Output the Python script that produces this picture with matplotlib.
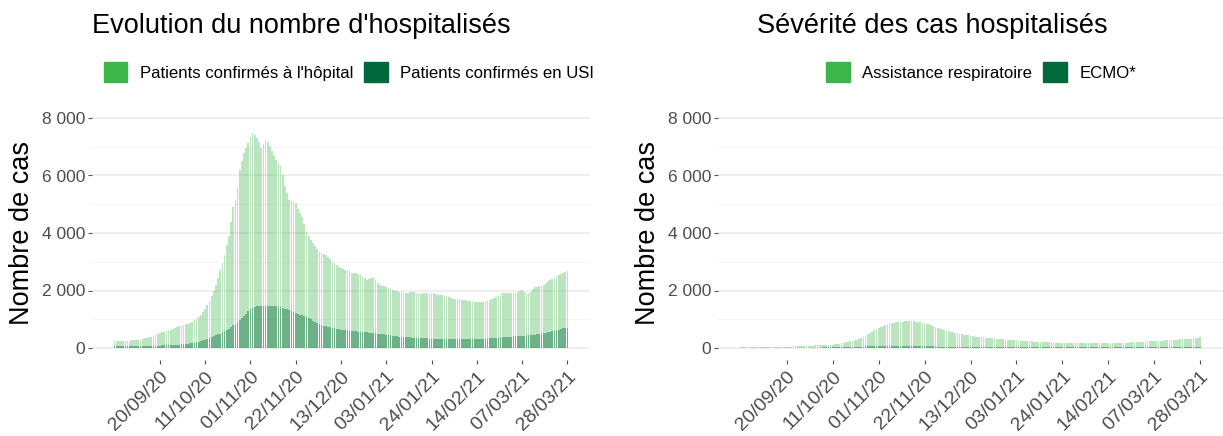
import numpy as np
import pandas as pd
import matplotlib
matplotlib.use('Agg')
import matplotlib.pyplot as plt
from matplotlib.patches import Patch
from matplotlib.ticker import FuncFormatter, MultipleLocator

plt.rcParams['font.family'] = ['Liberation Sans', 'DejaVu Sans']

# jours du 30/08/20 au 28/03/21
dates = pd.date_range('2020-08-30', '2021-03-28', freq='D')
tick_dates = pd.date_range('2020-09-20', '2021-03-28', freq='21D')

# patients confirmés à l'hôpital
hopital = [
    240, 235, 230, 228, 232, 238, 240,
    250, 262, 270, 280, 295, 310, 330,
    345, 360, 380, 400, 430, 465, 500,
    520, 545, 570, 595, 615, 640, 665,
    700, 735, 760, 780, 800, 825, 850,
    880, 920, 960, 1020, 1080, 1160, 1250,
    1360, 1480, 1620, 1800, 2000, 2200, 2450,
    2700, 2950, 3250, 3600, 3900, 4400, 4900,
    5150, 5600, 6200, 6500, 6780, 6950, 7130,
    7350, 7480, 7420, 7300, 7150, 6960, 7100,
    7245, 7150, 7013, 6850, 6700, 6550, 6450,
    6315, 6000, 5620, 5400, 5150, 5100, 5080,
    5036, 4850, 4700, 4571, 4300, 4047, 3900,
    3750, 3640, 3550, 3450, 3349, 3300, 3280,
    3233, 3150, 3080, 3000, 2950, 2900, 2826,
    2800, 2760, 2720, 2710, 2680, 2620, 2593,
    2600, 2560, 2535, 2480, 2420, 2361, 2400,
    2430, 2419, 2380, 2250, 2186, 2160, 2150,
    2128, 2090, 2050, 2012, 2000, 1980, 1960,
    1954, 1940, 1910, 1920, 1960, 1950, 1954,
    1930, 1910, 1880, 1896, 1920, 1910, 1880,
    1896, 1900, 1870, 1860, 1837, 1830, 1800,
    1790, 1760, 1740, 1721, 1710, 1700, 1690,
    1686, 1680, 1660, 1650, 1628, 1620, 1610,
    1605, 1600, 1610, 1605, 1630, 1650, 1663,
    1700, 1740, 1779, 1820, 1860, 1896, 1900,
    1919, 1910, 1930, 1896, 1900, 1960, 2000,
    2012, 1960, 1930, 1896, 1950, 2050, 2105,
    2120, 2150, 2160, 2186, 2250, 2320, 2361,
    2400, 2440, 2480, 2535, 2570, 2610, 2650,
    2687,
]

# patients confirmés en USI
usi = [
    58, 58, 60, 60, 62, 62, 63,
    64, 65, 65, 66, 67, 68, 69,
    70, 72, 74, 76, 78, 80, 83,
    86, 88, 90, 93, 96, 100, 104,
    108, 112, 116, 122, 130, 140, 150,
    162, 175, 190, 205, 222, 245, 270,
    295, 320, 350, 380, 410, 440, 470,
    500, 540, 580, 620, 670, 733, 790,
    850, 905, 965, 1040, 1120, 1198, 1270,
    1340, 1407, 1430, 1445, 1455, 1465, 1468,
    1465, 1462, 1460, 1458, 1454, 1445, 1430,
    1410, 1390, 1372, 1345, 1310, 1280, 1250,
    1221, 1195, 1165, 1135, 1110, 1082, 1040,
    1000, 950, 910, 884, 850, 815, 780,
    750, 733, 715, 700, 685, 670, 651,
    640, 630, 620, 610, 600, 590, 581,
    575, 570, 565, 560, 550, 540, 535,
    530, 525, 515, 500, 490, 480, 470,
    465, 455, 445, 430, 420, 410, 400,
    390, 384, 378, 372, 368, 365, 362,
    360, 355, 350, 345, 338, 332, 328,
    325, 322, 320, 318, 316, 315, 314,
    314, 313, 312, 310, 308, 306, 305,
    304, 302, 302, 302, 303, 305, 307,
    310, 312, 314, 318, 322, 328, 335,
    340, 346, 352, 360, 366, 372, 378,
    384, 390, 396, 402, 407, 412, 418,
    424, 430, 436, 442, 450, 458, 465,
    475, 488, 500, 515, 530, 545, 558,
    575, 590, 610, 630, 655, 680, 695,
    709,
]

# assistance respiratoire
respi = [
    23, 24, 24, 25, 26, 27, 28,
    29, 30, 31, 32, 33, 34, 35,
    36, 37, 39, 40, 42, 44, 46,
    48, 50, 52, 54, 57, 60, 63,
    66, 70, 74, 78, 82, 85, 88,
    91, 94, 97, 100, 104, 108, 112,
    118, 128, 140, 155, 170, 186, 200,
    215, 232, 250, 270, 290, 315, 345,
    380, 420, 470, 520, 570, 615, 660,
    700, 735, 770, 800, 830, 855, 872,
    885, 895, 905, 915, 919, 922, 925,
    925, 925, 922, 919, 910, 895, 880,
    865, 845, 826, 800, 770, 740, 705,
    675, 650, 625, 600, 580, 560, 540,
    523, 510, 495, 480, 465, 450, 435,
    419, 410, 400, 390, 382, 375, 368,
    360, 352, 349, 340, 332, 325, 318,
    310, 302, 295, 290, 285, 278, 272,
    266, 260, 252, 244, 240, 236, 232,
    228, 224, 220, 216, 212, 209, 206,
    203, 200, 197, 194, 190, 186, 184,
    182, 180, 178, 176, 174, 174, 172,
    170, 168, 166, 165, 164, 163, 163,
    164, 166, 168, 170, 172, 174, 174,
    174, 174, 174, 174, 175, 176, 178,
    180, 184, 188, 192, 196, 198, 202,
    208, 214, 220, 226, 232, 238, 244,
    247, 250, 254, 257, 260, 264, 267,
    270, 275, 280, 285, 290, 296, 302,
    308, 315, 322, 330, 340, 349, 362,
    375,
]

# ECMO
ecmo = [
    4, 4, 4, 5, 5, 5, 5,
    5, 5, 6, 6, 6, 6, 7,
    7, 7, 7, 8, 8, 8, 8,
    9, 9, 9, 10, 10, 10, 11,
    11, 12, 12, 13, 13, 14, 14,
    15, 16, 17, 18, 19, 20, 22,
    23, 25, 27, 29, 31, 33, 35,
    37, 39, 41, 43, 45, 47, 49,
    51, 53, 55, 57, 58, 60, 61,
    62, 63, 64, 65, 65, 66, 66,
    66, 66, 66, 65, 65, 64, 64,
    63, 62, 62, 61, 60, 59, 58,
    57, 56, 55, 54, 53, 52, 51,
    50, 49, 48, 47, 46, 45, 44,
    43, 42, 41, 40, 40, 39, 38,
    37, 36, 36, 35, 35, 34, 34,
    33, 33, 32, 32, 31, 31, 30,
    30, 30, 29, 29, 28, 28, 28,
    27, 27, 27, 26, 26, 26, 25,
    25, 25, 25, 25, 25, 25, 25,
    25, 25, 25, 25, 24, 24, 24,
    24, 24, 24, 24, 24, 24, 24,
    24, 24, 24, 24, 24, 24, 24,
    24, 24, 24, 24, 24, 24, 24,
    24, 24, 25, 25, 25, 25, 25,
    25, 26, 26, 26, 27, 27, 27,
    28, 28, 28, 29, 29, 29, 30,
    30, 30, 31, 31, 31, 32, 32,
    32, 33, 33, 33, 34, 34, 34,
    35, 35, 35, 36, 36, 36, 37,
    37,
]

vert_clair = '#3cb54a'
vert_fonce = '#00693c'
gris = '#4d4d4d'

W, H = 1223, 436
fig = plt.figure(figsize=(W / 100, H / 100), dpi=100)


def px_axes(x0, x1, y0, y1):
    return fig.add_axes([x0 / W, 1 - y1 / H, (x1 - x0) / W, (y1 - y0) / H])


def fmt_milliers(v, pos):
    return f'{int(v):,}'.replace(',', ' ')


def panneau(ax, serie1, serie2):
    ax.bar(dates, serie1, width=0.8, color=vert_clair, alpha=0.35, linewidth=0)
    ax.bar(dates, serie2, width=0.8, color=vert_fonce, alpha=0.42, linewidth=0)
    ax.set_ylim(-400, 8400)
    ax.set_xlim(dates[0] - pd.Timedelta(days=10.5), dates[-1] + pd.Timedelta(days=10.5))
    ax.yaxis.set_major_locator(MultipleLocator(2000))
    ax.yaxis.set_minor_locator(MultipleLocator(1000))
    ax.yaxis.set_major_formatter(FuncFormatter(fmt_milliers))
    ax.grid(which='major', axis='y', color='#ebebeb', linewidth=1.1)
    ax.grid(which='minor', axis='y', color='#f2f2f2', linewidth=0.6)
    ax.set_axisbelow(True)
    for s in ax.spines.values():
        s.set_visible(False)
    ax.set_xticks(tick_dates)
    ax.set_xticklabels([d.strftime('%d/%m/%y') for d in tick_dates],
                       rotation=45, ha='right', va='top', rotation_mode='anchor')
    ax.tick_params(axis='both', which='major', colors='#555555', labelcolor=gris,
                   length=3, width=0.8)
    ax.tick_params(axis='y', which='major', labelsize=12.5, pad=2)
    ax.tick_params(axis='x', which='major', labelsize=14, pad=3)
    ax.tick_params(axis='y', which='minor', length=0)
    ax.set_ylabel('Nombre de cas', fontsize=19.5, color='black', labelpad=5)


ax1 = px_axes(92, 590, 106.5, 359.5)
panneau(ax1, hopital, usi)
ax2 = px_axes(718, 1223, 106.5, 359.5)
panneau(ax2, respi, ecmo)

fig.text(92 / W, 1 - 26 / H, "Evolution du nombre d'hospitalisés", fontsize=19.5, va='center', ha='left')
fig.text(757 / W, 1 - 26 / H, 'Sévérité des cas hospitalisés', fontsize=19.5, va='center', ha='left')

leg_kw = dict(ncol=2, frameon=False, fontsize=12.1, handlelength=1.4, handleheight=1.4,
              handletextpad=0.75, columnspacing=0.65, loc='center')
fig.legend(handles=[Patch(color=vert_clair, label="Patients confirmés à l'hôpital"),
                    Patch(color=vert_fonce, label='Patients confirmés en USI')],
           bbox_to_anchor=(349 / W, 1 - 72 / H), **leg_kw)
fig.legend(handles=[Patch(color=vert_clair, label='Assistance respiratoire'),
                    Patch(color=vert_fonce, label='ECMO*')],
           bbox_to_anchor=(981 / W, 1 - 72 / H), **leg_kw)

fig.savefig('out.png', dpi=100)
